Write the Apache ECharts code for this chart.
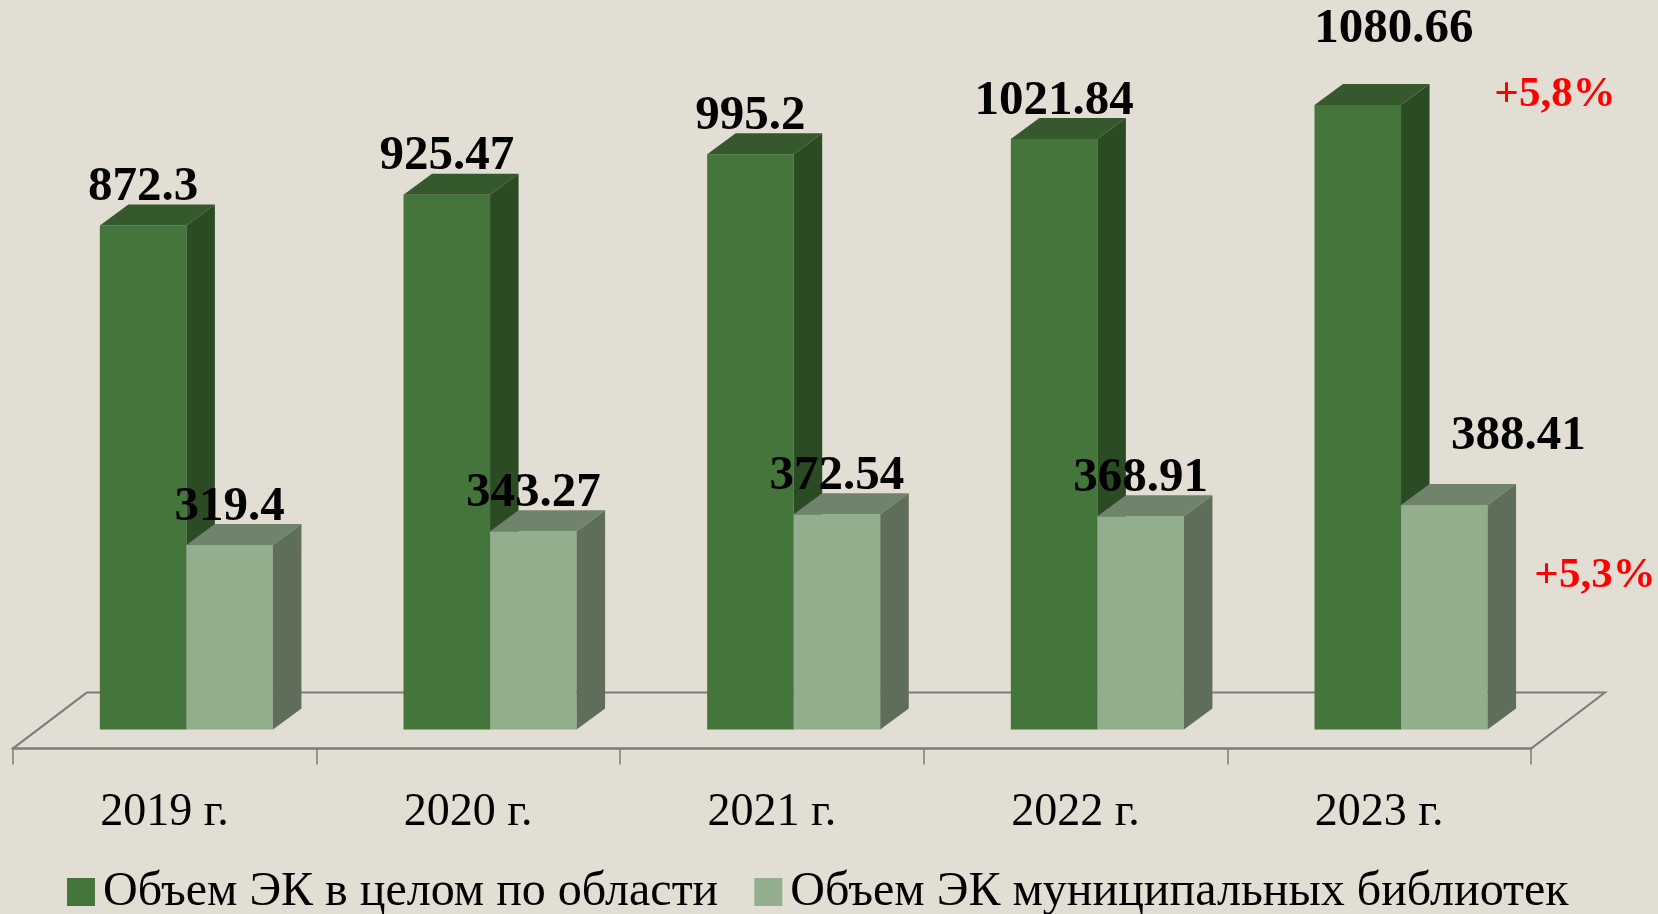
<!DOCTYPE html>
<html>
<head>
<meta charset="utf-8">
<script src="https://cdn.jsdelivr.net/npm/echarts@6/dist/echarts.min.js"></script>
<style>
  html, body { margin: 0; padding: 0; background: #E2DED3; }
  #chart { width: 1658px; height: 914px; }
</style>
</head>
<body>
<div id="chart"></div>
<script>
// Данные: объем электронного каталога (тыс. записей) по годам
var years = ["2019 г.", "2020 г.", "2021 г.", "2022 г.", "2023 г."];
var totalVolume = [872.3, 925.47, 995.2, 1021.84, 1080.66];
var municipalVolume = [319.4, 343.27, 372.54, 368.91, 388.41];
var seriesNames = ["Объем ЭК в целом по области", "Объем ЭК муниципальных библиотек"];
var growthNotes = ["+5,8%", "+5,3%"];

// Палитра: фронт / бок / верх псевдо-3D столбцов
var C = {
  bg: "#E2DED3", axis: "#7C7C7C", red: "#FF0000",
  dark: { front: "#44753A", side: "#2B4B25", top: "#35582C" },
  light: { front: "#93AE8C", side: "#5E6E59", top: "#6F846A" }
};

// Геометрия псевдо-3D (доли ширины категории и пиксели глубины)
var BAR = 0.285, PAIR_SHIFT = 0.072;
var DEPTH = [28.5, -21];      // смещение задней грани столбца
var FLOOR = [74, -56];        // глубина «пола»
var FLOOR_FRONT = 19;         // передний край пола ниже основания столбцов
var LABEL_FONT = "bold 49px 'Liberation Serif'";
var NOTE_FONT = "bold 43px 'Liberation Serif'";

// Подписи последнего года сдвинуты вручную, как в исходной диаграмме
var darkLabelShift = { 4: [36, -38] };
var lightLabelShift = { 4: [74, -31] };

function box(x, yTop, yBase, w, face) {
  var dx = DEPTH[0], dy = DEPTH[1];
  return [
    { type: "rect", shape: { x: x, y: yTop, width: w, height: yBase - yTop }, style: { fill: face.front } },
    { type: "polygon", shape: { points: [[x + w, yTop], [x + w + dx, yTop + dy], [x + w + dx, yBase + dy], [x + w, yBase]] }, style: { fill: face.side } },
    { type: "polygon", shape: { points: [[x, yTop], [x + dx, yTop + dy], [x + w + dx, yTop + dy], [x + w, yTop]] }, style: { fill: face.top } }
  ];
}

function barRenderer(slot, face, labelShift) {
  return function (params, api) {
    var i = api.value(0), v = api.value(1);
    var top = api.coord([i, v]), base = api.coord([i, 0]);
    var band = api.size([1, 0])[0];
    var w = band * BAR;
    var x = top[0] + band * PAIR_SHIFT - w + slot * w;
    var s = labelShift[i] || [0, 0];
    var kids = box(x, top[1], base[1], w, face);
    kids.push({ type: "text", x: x + w / 2 + s[0], y: top[1] - 38 + s[1],
      style: { text: String(v), font: LABEL_FONT, fill: "#000", align: "center", verticalAlign: "middle" } });
    return { type: "group", children: kids };
  };
}

function floorRenderer(params, api) {
  var band = api.size([1, 0])[0];
  var a = api.coord([0, 0]), b = api.coord([years.length - 1, 0]);
  var y = a[1] + FLOOR_FRONT;
  var x0 = a[0] - band / 2, x1 = b[0] + band / 2;
  return { type: "polyline", shape: { points: [[x0, y], [x0 + FLOOR[0], y + FLOOR[1]], [x1 + FLOOR[0], y + FLOOR[1]], [x1, y]] },
    style: { stroke: C.axis, lineWidth: 2, fill: null } };
}

var chart = echarts.init(document.getElementById("chart"), null, { renderer: "canvas" });
chart.setOption({
  backgroundColor: C.bg,
  animation: false,
  grid: { left: 12.7, right: 127, top: 36, bottom: 184.4, containLabel: false },
  xAxis: {
    type: "category", data: years, offset: FLOOR_FRONT,
    axisLine: { show: true, onZero: false, lineStyle: { color: C.axis, width: 2.5 } },
    axisTick: { show: true, length: 16, lineStyle: { color: C.axis, width: 1.5 } },
    axisLabel: { margin: 41, fontFamily: "Liberation Serif", fontSize: 46, color: "#000" },
    splitLine: { show: false }
  },
  yAxis: { type: "value", min: 0, max: 1200, show: false },
  legend: {
    data: seriesNames, left: 67, top: 868, padding: 0, icon: "rect", itemWidth: 28, itemHeight: 28, itemGap: 36,
    textStyle: { fontFamily: "Liberation Serif", fontSize: 48, color: "#000", padding: [0, 0, 0, 3] }
  },
  graphic: [
    { type: "text", x: 1555, y: 95, style: { text: growthNotes[0], font: NOTE_FONT, fill: C.red, align: "center", verticalAlign: "middle" } },
    { type: "text", x: 1595, y: 576, style: { text: growthNotes[1], font: NOTE_FONT, fill: C.red, align: "center", verticalAlign: "middle" } }
  ],
  series: [
    { name: "floor", type: "custom", data: [[0, 0]], renderItem: floorRenderer, silent: true, z: 1 },
    { name: seriesNames[0], type: "custom", itemStyle: { color: C.dark.front }, z: 2,
      data: totalVolume.map(function (v, i) { return [i, v]; }),
      renderItem: barRenderer(0, C.dark, darkLabelShift) },
    { name: seriesNames[1], type: "custom", itemStyle: { color: C.light.front }, z: 2,
      data: municipalVolume.map(function (v, i) { return [i, v]; }),
      renderItem: barRenderer(1, C.light, lightLabelShift) }
  ]
});
</script>
</body>
</html>
